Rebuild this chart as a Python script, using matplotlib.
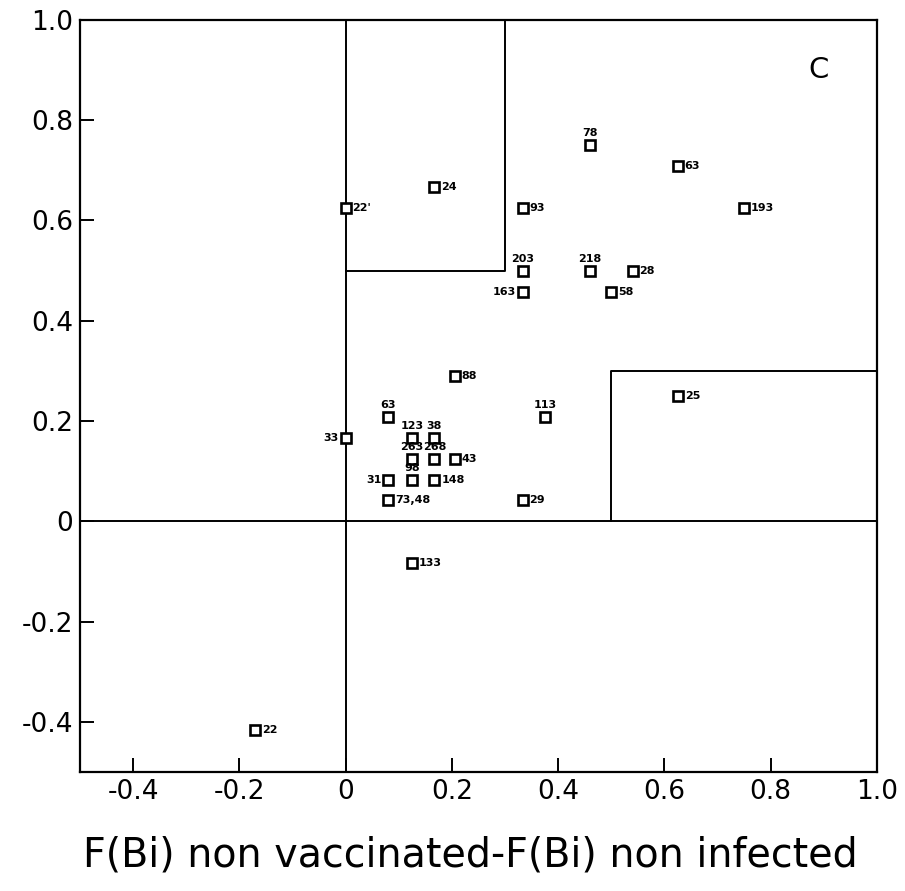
import matplotlib
matplotlib.use("Agg")
import matplotlib.pyplot as plt

# data (panel C)
labels = ["22'", "24", "93", "203", "163", "78", "63", "193", "218", "28", "58",
          "25", "88", "113", "29", "33", "63", "123", "38", "263", "268", "43",
          "31", "98", "148", "73,48", "133", "22"]
x_vals = [0.0, 0.167, 0.333, 0.333, 0.333, 0.46, 0.625, 0.75, 0.46, 0.54, 0.5,
          0.625, 0.205, 0.375, 0.333, 0.0, 0.08, 0.125, 0.167, 0.125, 0.167, 0.205,
          0.08, 0.125, 0.167, 0.08, 0.125, -0.17]
y_vals = [0.625, 0.667, 0.625, 0.5, 0.458, 0.75, 0.708, 0.625, 0.5, 0.5, 0.458,
          0.25, 0.29, 0.208, 0.042, 0.167, 0.208, 0.167, 0.167, 0.125, 0.125, 0.125,
          0.083, 0.083, 0.083, 0.042, -0.083, -0.417]
# where the label sits relative to its point: r = right, a = above, l = left
label_pos = ["r", "r", "r", "a", "l", "a", "r", "r", "a", "r", "r",
             "r", "r", "a", "r", "l", "a", "a", "a", "a", "a", "r",
             "l", "a", "r", "r", "r", "r"]

ticks = [-0.4, -0.2, 0, 0.2, 0.4, 0.6, 0.8, 1.0]
tick_labels = ["-0.4", "-0.2", "0", "0.2", "0.4", "0.6", "0.8", "1.0"]
yticks = [-0.4, -0.2, 0, 0.2, 0.4, 0.6, 0.8, 1.0]
ytick_labels = ["-0.4", "-0.2", "0", "0.2", "0.4", "0.6", "0.8", "1.0"]

plt.rcParams["font.family"] = ["DejaVu Sans"]

fig = plt.figure(figsize=(9.05, 8.91), dpi=100)
ax = fig.add_axes([0.0884, 0.1336, 0.8806, 0.844])

ax.set_xlim(-0.5, 1.0)
ax.set_ylim(-0.5, 1.0)

# reference lines and boxes
lw = 1.4
ax.axvline(0, color="black", lw=lw)
ax.axhline(0, color="black", lw=lw)
ax.plot([0, 0.3, 0.3], [0.5, 0.5, 1.0], color="black", lw=lw)
ax.plot([0.5, 0.5, 1.0], [0, 0.3, 0.3], color="black", lw=lw)

ax.plot(x_vals, y_vals, ls="none", marker="s", markersize=6.5,
        markerfacecolor="white", markeredgecolor="black", markeredgewidth=1.9,
        zorder=3)

for lab, x, y, p in zip(labels, x_vals, y_vals, label_pos):
    if p == "r":
        ax.annotate(lab, (x, y), xytext=(5, 0), textcoords="offset points",
                    ha="left", va="center", fontsize=8, fontweight="bold")
    elif p == "l":
        ax.annotate(lab, (x, y), xytext=(-5, 0), textcoords="offset points",
                    ha="right", va="center", fontsize=8, fontweight="bold")
    else:
        ax.annotate(lab, (x, y), xytext=(0, 5), textcoords="offset points",
                    ha="center", va="bottom", fontsize=8, fontweight="bold")

ax.text(0.89, 0.9, "C", fontsize=21, ha="center", va="center")

ax.set_xticks(ticks)
ax.set_xticklabels(tick_labels)
ax.set_yticks(yticks)
ax.set_yticklabels(ytick_labels)
ax.tick_params(axis="both", which="major", direction="in", length=10,
               width=1.4, labelsize=19, pad=5)
for s in ax.spines.values():
    s.set_linewidth(1.6)

fig.text(0.52, 0.04, "F(Bi) non vaccinated-F(Bi) non infected",
         fontsize=28.5, ha="center", va="center")

fig.savefig("out.png", dpi=100)
